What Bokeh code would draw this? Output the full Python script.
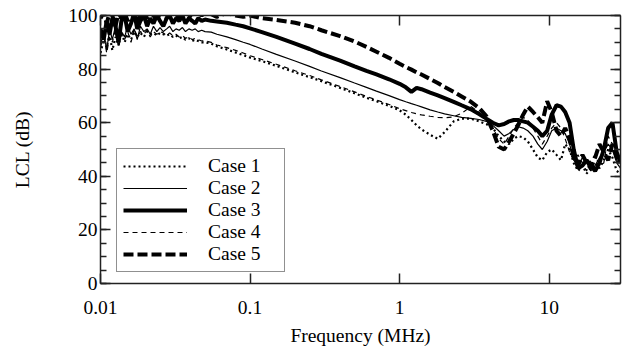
from bokeh.plotting import figure
from bokeh.models import (Range1d, LogAxis, LinearAxis, FixedTicker, SingleIntervalTicker,
                          CustomJSTickFormatter, Legend, LegendItem, ColumnDataSource)
from bokeh.embed import file_html
from bokeh.resources import INLINE

# Frequency grid (MHz)
FREQ = [0.010, 0.0105, 0.011, 0.0115, 0.012, 0.0126, 0.0132, 0.0138, 0.0145, 0.0152,
        0.016, 0.0168, 0.0176, 0.0185, 0.0195, 0.0205, 0.0215, 0.0226, 0.0238, 0.025,
        0.0263, 0.0277, 0.029, 0.0305, 0.032, 0.0336, 0.0353, 0.037, 0.039, 0.041,
        0.043, 0.045, 0.0475, 0.05,
        0.055, 0.06, 0.07, 0.08, 0.09, 0.1, 0.12, 0.15, 0.2, 0.25,
        0.3, 0.4, 0.5, 0.6, 0.7, 0.85, 1.0, 1.1, 1.2, 1.3,
        1.4, 1.6, 1.8, 2.0, 2.3, 2.6, 3.0, 3.4,
        3.8, 4.2, 4.6, 5.0, 5.4, 5.8, 6.2, 6.7, 7.2, 7.8,
        8.4, 9.0, 9.7, 10.4, 11.2, 12.0, 12.8, 13.7, 14.6, 15.6,
        16.7, 17.8, 19.0, 20.3, 21.7, 23.2, 24.8, 26.5, 28.3, 30.0]

# LCL (dB)
CASE1 = [86, 91, 88, 93, 87, 92, 89, 94, 90, 93, 91, 94, 92, 93.5, 92, 94, 93, 93.5, 92.5, 93.5,
         93, 92.5, 93, 92, 92.5, 91.5, 92, 91, 91.5, 90.5, 91, 90.5, 90, 90,
         89.5, 88.5, 87.3, 86.2, 85.2, 84.3, 83, 81.2, 78.8, 77, 75.5, 73, 71, 69.3, 68, 66.3,
         64.6, 63, 61, 59, 57.5, 55.5, 54, 56.5, 60.5, 61.5, 61.5, 60.5,
         59.5, 58, 55, 53, 52, 54, 55, 54.5, 53, 50, 47, 46, 49, 50, 48, 46, 52, 50, 45, 42,
         44, 41, 43, 45, 43, 46, 50, 47, 42, 41]
CASE2 = [89, 94, 87, 95, 91, 96, 90, 94, 92, 96, 93, 95, 91, 96, 94, 95, 93, 96, 94, 95.5,
         94, 95, 96, 94, 95, 94.5, 95.5, 94, 95, 94.5, 95, 94, 94.5, 94,
         93.8, 93, 92, 91, 90, 89.2, 87.5, 85.5, 83, 81, 79.3, 76.8, 74.8, 73.2, 71.8, 70.1,
         68.6, 67.8, 67.1, 66.5, 65.9, 64.8, 64, 63.3, 62.6, 62, 61.6, 61.2,
         60.5, 59, 57, 55, 56, 57.5, 58.5, 58, 57, 55, 52, 50, 53, 57, 58, 57, 56, 52, 46, 44,
         47, 45, 42, 44, 47, 49, 52, 50, 45, 43]
CASE3 = [95, 91, 98, 93, 99, 96, 90, 98, 100, 94, 97, 101, 95, 98, 100, 96, 99, 97, 100, 98,
         96, 99, 100, 97, 99, 98, 100, 97, 99, 98, 97, 99, 98, 98.5,
         98, 97.8, 97.3, 96.6, 96, 95.2, 93.8, 92, 89.5, 87.5, 85.7, 83.2, 81, 79.3, 78, 76.2,
         74.5, 73.2, 71.5, 73, 72.5, 71.2, 70.2, 69.2, 67.8, 66.5, 65, 63.2,
         61.5, 60, 59, 59.5, 60.5, 61, 61, 60.5, 60, 58.5, 57, 55, 57, 63, 66.5, 66, 64, 60, 50, 43,
         44, 46, 44, 42, 45, 50, 58, 60, 49, 45]
CASE4 = [88, 93, 86, 92, 90, 95, 88, 93, 91, 94, 90, 95, 92, 94, 93, 94.5, 92, 94, 93, 94,
         93.5, 92.5, 93.5, 92.5, 93, 92, 92.5, 91.5, 92, 91, 91.5, 91, 90.5, 90.5,
         90, 89, 88, 87, 86, 85, 83.6, 81.8, 79.4, 77.6, 76, 73.5, 71.5, 69.8, 68.5, 66.8,
         65.2, 64.5, 63.8, 63.3, 62.9, 62.4, 62, 61.8, 62.2, 63.5, 66, 64,
         61, 58, 54, 52, 55, 58, 60, 62, 61, 58, 55, 52, 55, 58, 60, 58, 54, 49, 46, 48,
         45, 42, 46, 48, 44, 45, 55, 52, 46, 44]
CASE5 = [99, 101, 97, 101, 100, 96, 101, 99, 101, 98, 101, 100, 97, 101, 101, 99, 101, 100, 98, 101,
         101, 99, 101, 100, 101, 98, 101, 101, 99, 101, 100, 101, 100, 101,
         100.5, 99.5, 101, 100, 99.5, 100, 99, 98.3, 97.3, 96, 94.5, 92.3, 90.3, 88.3, 86.5, 84.2,
         82, 80.8, 79.8, 78.8, 78, 76.3, 74.8, 73.3, 71.5, 69.8, 67.8, 65.5,
         62.5, 57, 51, 50, 53, 56, 59, 63, 66, 64, 62, 60, 68, 64, 57, 55, 58, 54, 47, 44,
         48, 45, 43, 47, 52, 49, 46, 52, 47, 45]

LABELS = ["Case 1", "Case 2", "Case 3", "Case 4", "Case 5"]
X_TICKS = [0.01, 0.1, 1, 10]

FONT = "'Liberation Serif', 'Times New Roman', serif"
FS = "19.5px"
AX = "#222222"

src = ColumnDataSource(dict(f=FREQ, c1=CASE1, c2=CASE2, c3=CASE3, c4=CASE4, c5=CASE5))

p = figure(width=625, height=350, output_backend="svg", toolbar_location=None,
           x_axis_type="log", x_range=Range1d(0.01, 30), y_range=Range1d(0, 100),
           min_border_left=100, min_border_right=5, min_border_top=15, min_border_bottom=67)
p.outline_line_color = None
p.xgrid.visible = False
p.ygrid.visible = False
p.background_fill_color = "white"
p.border_fill_color = "white"

r5 = p.line("f", "c5", source=src, line_color="black", line_width=4, line_dash="10 4")
r3 = p.line("f", "c3", source=src, line_color="black", line_width=4)
r2 = p.line("f", "c2", source=src, line_color="black", line_width=1.2)
r4 = p.line("f", "c4", source=src, line_color="black", line_width=1.2, line_dash="5 4")
r1 = p.line("f", "c1", source=src, line_color="black", line_width=2.2, line_dash="2 3")

def style_axis(ax):
    ax.axis_line_color = AX
    ax.axis_line_width = 1.5
    ax.major_tick_line_color = AX
    ax.minor_tick_line_color = AX
    ax.major_tick_line_width = 1.5
    ax.minor_tick_line_width = 1.5
    ax.major_tick_in = 10
    ax.major_tick_out = 0
    ax.minor_tick_in = 6
    ax.minor_tick_out = 0
    ax.major_label_text_font = FONT
    ax.major_label_text_font_size = FS
    ax.major_label_text_color = "black"
    ax.axis_label_text_font = FONT
    ax.axis_label_text_font_size = FS
    ax.axis_label_text_font_style = "normal"
    ax.axis_label_text_color = "black"

xa = p.xaxis[0]
style_axis(xa)
xa.ticker = FixedTicker(ticks=X_TICKS, minor_ticks=[])
xa.formatter = CustomJSTickFormatter(code="return tick.toString();")
xa.axis_label = "Frequency (MHz)"
xa.major_label_standoff = 17
xa.axis_label_standoff = 8

ya = p.yaxis[0]
style_axis(ya)
ya.ticker = SingleIntervalTicker(interval=20, num_minor_ticks=4)
ya.axis_label = "LCL (dB)"
ya.major_label_standoff = 3
ya.axis_label_standoff = 32

top = LogAxis(ticker=FixedTicker(ticks=X_TICKS, minor_ticks=[]),
              formatter=CustomJSTickFormatter(code="return '';"))
style_axis(top)
p.add_layout(top, "above")

right = LinearAxis(ticker=SingleIntervalTicker(interval=20, num_minor_ticks=4),
                   formatter=CustomJSTickFormatter(code="return '';"))
style_axis(right)
p.add_layout(right, "right")

legend = Legend(items=[LegendItem(label=LABELS[0], renderers=[r1]),
                       LegendItem(label=LABELS[1], renderers=[r2]),
                       LegendItem(label=LABELS[2], renderers=[r3]),
                       LegendItem(label=LABELS[3], renderers=[r4]),
                       LegendItem(label=LABELS[4], renderers=[r5])],
                location=(16, 11))
legend.border_line_color = AX
legend.border_line_width = 1.5
legend.background_fill_color = "white"
legend.background_fill_alpha = 1.0
legend.label_text_font = FONT
legend.label_text_font_size = FS
legend.label_text_color = "black"
legend.padding = 6
legend.spacing = 0
legend.margin = 0
legend.glyph_width = 64
legend.glyph_height = 20
legend.label_height = 20
legend.label_standoff = 21
legend.label_width = 70
p.add_layout(legend, "center")

open("out.html", "w").write(file_html(p, INLINE))
